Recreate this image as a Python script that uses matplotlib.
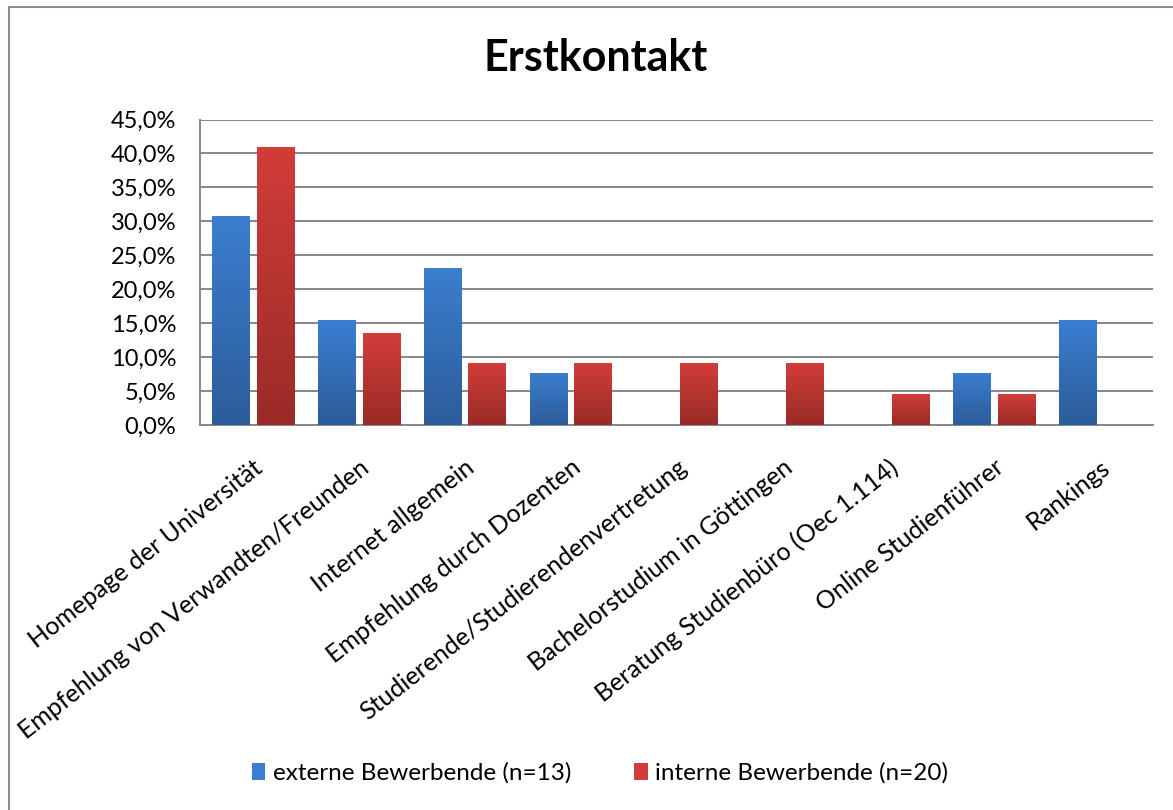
import numpy as np
import matplotlib
matplotlib.use("Agg")
import matplotlib.pyplot as plt
from matplotlib.patches import Rectangle, Patch
from matplotlib.colors import LinearSegmentedColormap
from matplotlib.ticker import FuncFormatter, MultipleLocator

plt.rcParams['font.family'] = ['Lato', 'DejaVu Sans']

categories = ['Homepage der Universität', 'Empfehlung von Verwandten/Freunden',
              'Internet allgemein', 'Empfehlung durch Dozenten',
              'Studierende/Studierendenvertretung', 'Bachelorstudium in Göttingen',
              'Beratung Studienbüro (Oec 1.114)', 'Online Studienführer', 'Rankings']
externe = [30.8, 15.4, 23.1, 7.7, 0.0, 0.0, 0.0, 7.7, 15.4]
interne = [40.9, 13.6, 9.1, 9.1, 9.1, 9.1, 4.5, 4.5, 0.0]
series_names = ['externe Bewerbende (n=13)', 'interne Bewerbende (n=20)']

blue_top, blue_bot = '#3b7ecf', '#2c5d9a'
red_top, red_bot = '#d13d39', '#9a2b27'

fig = plt.figure(figsize=(11.73, 8.10), dpi=100)
ax = fig.add_axes([200 / 1173, 1 - 425 / 810, 953 / 1173, 305.5 / 810])

x = np.arange(len(categories))
w = 0.35
grad = np.linspace(1, 0, 64).reshape(-1, 1)


def gradient_bars(xpos, vals, top, bot):
    bars = ax.bar(xpos, vals, width=w, color='none', edgecolor='none', zorder=3)
    cmap = LinearSegmentedColormap.from_list('g', [bot, top])
    for r in bars:
        if r.get_height() <= 0:
            continue
        x0, y0 = r.get_x(), r.get_y()
        im = ax.imshow(grad, cmap=cmap, aspect='auto', zorder=3,
                       extent=[x0, x0 + r.get_width(), y0, y0 + r.get_height()],
                       vmin=0, vmax=1)
        im.set_clip_path(r)
    return bars


gradient_bars(x - 0.21, externe, blue_top, blue_bot)
gradient_bars(x + 0.21, interne, red_top, red_bot)

ax.set_xlim(-0.5, len(categories) - 0.5)
ax.set_ylim(0, 45)
ax.yaxis.set_major_locator(MultipleLocator(5))
ax.yaxis.set_major_formatter(FuncFormatter(lambda v, p: f'{v:.1f}%'.replace('.', ',')))
ax.grid(axis='y', color='#878787', linewidth=1.4, zorder=0)
ax.set_axisbelow(True)
for s in ['top', 'right']:
    ax.spines[s].set_visible(False)
for s in ['left', 'bottom']:
    ax.spines[s].set_color('#878787')
    ax.spines[s].set_linewidth(1.4)

ax.set_xticks(x)
ax.set_xticklabels(categories, rotation=38, ha='right', rotation_mode='anchor', fontsize=18)
ax.tick_params(axis='x', length=0, pad=22)
ax.tick_params(axis='y', length=0, pad=17, labelsize=17)

fig.text(596 / 1173, 1 - 58 / 810, 'Erstkontakt', fontsize=31, fontweight='bold',
         ha='center', va='center')

handles = [Patch(facecolor=blue_top, edgecolor='none'), Patch(facecolor=red_top, edgecolor='none')]
fig.legend(handles, series_names, loc='center', bbox_to_anchor=(600 / 1173, 1 - 773 / 810),
           ncol=2, frameon=False, fontsize=17.5, handlelength=0.55, handleheight=0.7,
           handletextpad=0.3, columnspacing=2.6)

fig.add_artist(Rectangle((9 / 1173, -0.1), 1.2, 1 - 7 / 810 + 0.1, transform=fig.transFigure,
                         fill=False, edgecolor='#8c8c8c', linewidth=1.5))

fig.savefig('out.png', dpi=100, facecolor='white')
